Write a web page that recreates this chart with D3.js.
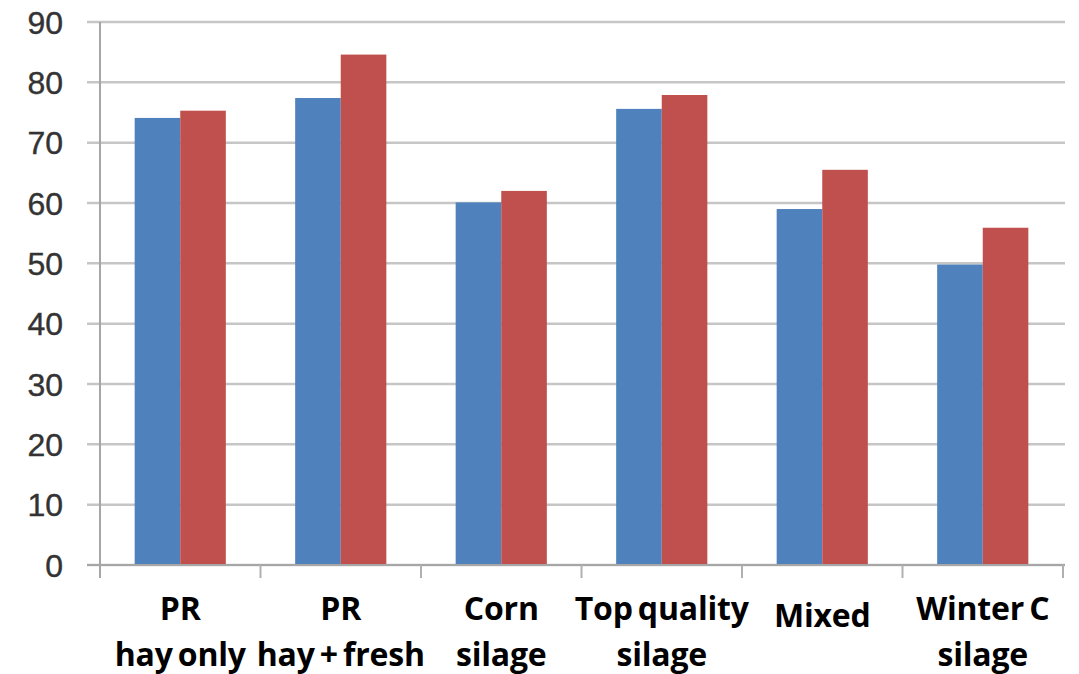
<!DOCTYPE html>
<html>
<head>
<meta charset="utf-8">
<script src="https://cdn.jsdelivr.net/npm/d3@7"></script>
<style>
  html, body { margin: 0; padding: 0; background: #ffffff; }
  svg { display: block; }
</style>
</head>
<body>
<svg id="chart" width="1079" height="674"></svg>
<script>
// Category labels, one entry per line of text
const categories = [
  ["PR", "hay only"],
  ["PR", "hay + fresh"],
  ["Corn", "silage"],
  ["Top quality", "silage"],
  ["Mixed"],
  ["Winter C", "silage"]
];
const seriesBlue = [74.1, 77.4, 60.1, 75.6, 59.0, 49.8];
const seriesRed  = [75.3, 84.6, 62.0, 77.9, 65.5, 55.9];
const yTicks = [0, 10, 20, 30, 40, 50, 60, 70, 80, 90];

const colors = { blue: "#4F81BD", red: "#C0504D" };

const svg = d3.select("#chart");
const plot = { left: 100, right: 1063, top: 22, bottom: 565 };

const keys = categories.map((_, i) => i);
const x = d3.scaleBand().domain(keys).range([plot.left, plot.right]).paddingInner(0).paddingOuter(0);
const y = d3.scaleLinear().domain([0, 90]).range([plot.bottom, plot.top]);

const barW = x.bandwidth() * 0.284;

// Horizontal gridlines (extend left past the axis as tick marks)
svg.append("g")
  .selectAll("line")
  .data(yTicks)
  .join("line")
  .attr("x1", plot.left - 13)
  .attr("x2", plot.right + 2)
  .attr("y1", d => y(d))
  .attr("y2", d => y(d))
  .attr("stroke", "#c6c6c6")
  .attr("stroke-width", 2.5);

// Y tick labels
svg.append("g")
  .selectAll("text")
  .data(yTicks)
  .join("text")
  .attr("x", 63)
  .attr("y", d => y(d))
  .attr("dy", "0.36em")
  .attr("text-anchor", "end")
  .attr("font-family", "'Liberation Sans', Arial, sans-serif")
  .attr("font-size", 32)
  .attr("fill", "#333333")
  .attr("stroke", "#333333")
  .attr("stroke-width", 0.4)
  .text(d => d);

// Bars
const bars = svg.append("g");
bars.selectAll("rect.blue")
  .data(seriesBlue)
  .join("rect")
  .attr("class", "blue")
  .attr("x", (d, i) => x(i) + x.bandwidth() / 2 - barW)
  .attr("width", barW)
  .attr("y", d => y(d))
  .attr("height", d => y(0) - y(d))
  .attr("fill", colors.blue);
bars.selectAll("rect.red")
  .data(seriesRed)
  .join("rect")
  .attr("class", "red")
  .attr("x", (d, i) => x(i) + x.bandwidth() / 2)
  .attr("width", barW)
  .attr("y", d => y(d))
  .attr("height", d => y(0) - y(d))
  .attr("fill", colors.red);

// Y axis line
svg.append("line")
  .attr("x1", plot.left).attr("x2", plot.left)
  .attr("y1", plot.top).attr("y2", plot.bottom + 13)
  .attr("stroke", "#a6a6a6").attr("stroke-width", 2);

// X axis line and category boundary ticks
svg.append("line")
  .attr("x1", plot.left - 13).attr("x2", plot.right + 2)
  .attr("y1", plot.bottom).attr("y2", plot.bottom)
  .attr("stroke", "#a6a6a6").attr("stroke-width", 2);
const boundaries = keys.map(k => x(k)).concat([x(keys[keys.length - 1]) + x.bandwidth()]);
svg.append("g")
  .selectAll("line")
  .data(boundaries.slice(1))
  .join("line")
  .attr("x1", d => d).attr("x2", d => d)
  .attr("y1", plot.bottom).attr("y2", plot.bottom + 13)
  .attr("stroke", "#b0b0b0").attr("stroke-width", 2);

// Category labels
const labels = svg.append("g")
  .selectAll("text")
  .data(categories)
  .join("text")
  .attr("text-anchor", "middle")
  .attr("font-family", "'Open Sans', sans-serif")
  .attr("font-weight", "bold")
  .attr("font-size", 32)
  .attr("letter-spacing", -0.2)
  .attr("word-spacing", -3)
  .attr("fill", "#000");
labels.each(function (lines, i) {
  const t = d3.select(this);
  const cx = x(i) + x.bandwidth() / 2;
  const top = lines.length === 1 ? 627 : 620;
  lines.forEach((ln, j) => {
    t.append("tspan")
      .attr("x", cx)
      .attr("y", top + j * 46)
      .text(ln);
  });
});
</script>
</body>
</html>
